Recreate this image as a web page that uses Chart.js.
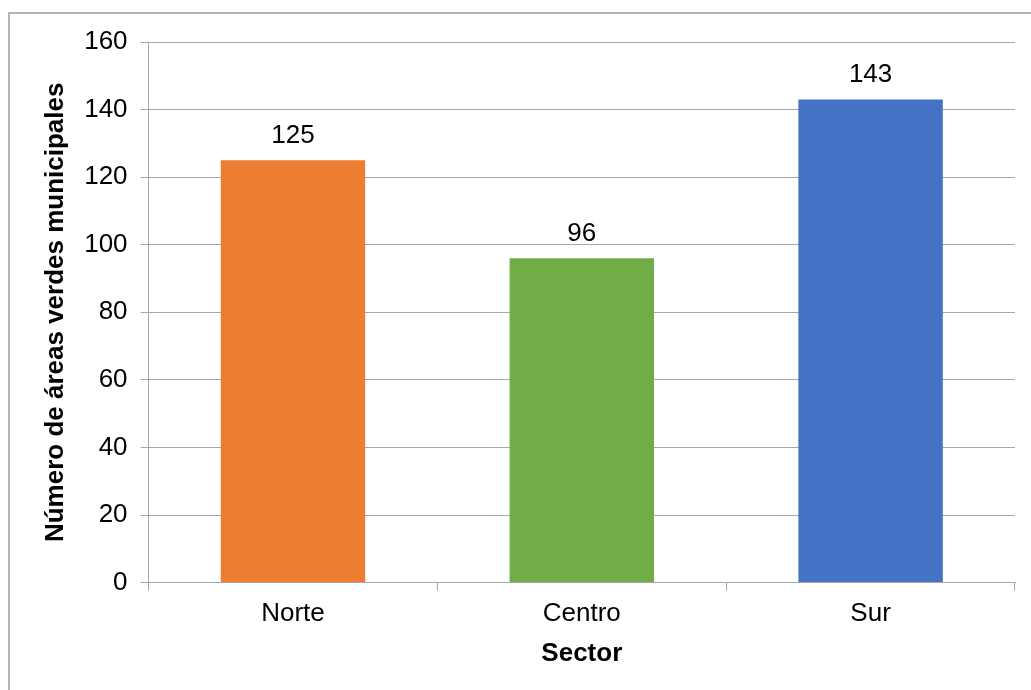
<!DOCTYPE html>
<html>
<head>
<meta charset="utf-8">
<script src="https://cdn.jsdelivr.net/npm/chart.js@4"></script>
<style>
  html, body { margin: 0; padding: 0; background: #fff; }
  #wrap { width: 1031px; height: 690px; }
</style>
</head>
<body>
<div id="wrap"><canvas id="sectorChart" width="1031" height="690"></canvas></div>
<script>
// datos
var sectores = ["Norte", "Centro", "Sur"];
var areasVerdes = [125, 96, 143];
var coloresBarras = ["#ED7D31", "#70AD47", "#4472C4"];
var yTicks = [0, 20, 40, 60, 80, 100, 120, 140, 160];

var fuente = "'Liberation Sans', Arial, sans-serif";

// marco exterior (solo borde izquierdo y superior visibles)
var marco = {
  id: 'marco',
  beforeDraw: function (chart) {
    var ctx = chart.ctx;
    ctx.save();
    ctx.strokeStyle = "#b4b4b4";
    ctx.lineWidth = 2;
    ctx.beginPath();
    ctx.moveTo(9, 700);
    ctx.lineTo(9, 13);
    ctx.lineTo(1040, 13);
    ctx.stroke();
    ctx.restore();
  }
};

// etiquetas de valor sobre las barras
var etiquetas = {
  id: 'etiquetas',
  afterDatasetsDraw: function (chart) {
    var ctx = chart.ctx;
    var meta = chart.getDatasetMeta(0);
    ctx.save();
    ctx.fillStyle = "#000";
    ctx.font = "26px " + fuente;
    ctx.textAlign = "center";
    ctx.textBaseline = "alphabetic";
    meta.data.forEach(function (bar, i) {
      ctx.fillText(areasVerdes[i], bar.x, bar.y - 17);
    });
    ctx.restore();
  }
};

new Chart(document.getElementById("sectorChart"), {
  type: 'bar',
  data: {
    labels: sectores,
    datasets: [{
      data: areasVerdes,
      backgroundColor: coloresBarras,
      categoryPercentage: 1.0,
      barPercentage: 0.5
    }]
  },
  options: {
    responsive: false,
    animation: false,
    layout: { padding: { top: 42, right: 16, left: 40, bottom: 21 } },
    plugins: {
      legend: { display: false },
      tooltip: { enabled: false }
    },
    scales: {
      x: {
        grid: {
          display: true,
          offset: true,
          drawOnChartArea: false,
          drawTicks: true,
          tickLength: 8,
          color: "#a6a6a6"
        },
        border: { display: true, color: "#a6a6a6", width: 1 },
        ticks: { color: "#000", font: { family: fuente, size: 26 }, padding: 8 },
        title: {
          display: true,
          text: "Sector",
          color: "#000",
          font: { family: fuente, size: 26, weight: "bold" },
          padding: { top: 0, bottom: 0 }
        }
      },
      y: {
        min: 0,
        max: 160,
        afterBuildTicks: function (axis) {
          axis.ticks = yTicks.map(function (v) { return { value: v }; });
        },
        grid: {
          color: "#a6a6a6",
          tickLength: 8,
          drawTicks: true
        },
        border: { display: true, color: "#a6a6a6", width: 1 },
        ticks: { color: "#000", font: { family: fuente, size: 26 }, padding: 13 },
        title: {
          display: true,
          text: "Número de áreas verdes municipales",
          color: "#000",
          font: { family: fuente, size: 26, weight: "bold" },
          padding: { top: 0, bottom: 0 }
        }
      }
    }
  },
  plugins: [marco, etiquetas]
});
</script>
</body>
</html>
